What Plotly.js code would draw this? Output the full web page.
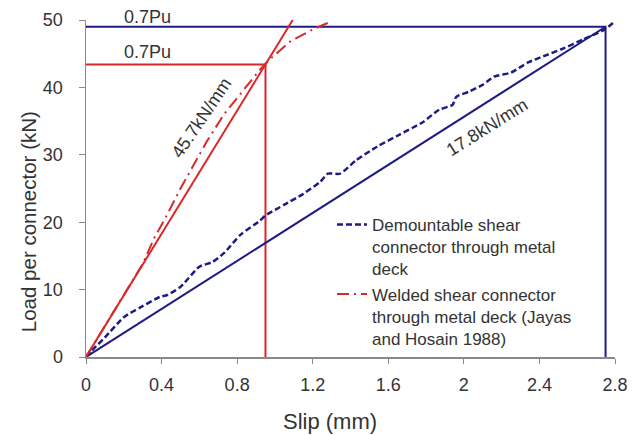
<!DOCTYPE html>
<html>
<head>
<meta charset="utf-8">
<script src="https://cdn.plot.ly/plotly-3.0.1.min.js"></script>
<style>html,body{margin:0;padding:0;background:#fff;}#chart{width:632px;height:436px;}</style>
</head>
<body>
<div id="chart"></div>
<script>
// Demountable shear connector through metal deck (test curve)
var demountSlip = [0, 0.05, 0.10, 0.20, 0.29, 0.39, 0.43, 0.50, 0.60, 0.67, 0.73, 0.82, 0.92, 0.95, 1.05, 1.15, 1.24, 1.28, 1.345, 1.43, 1.54, 1.66, 1.78, 1.87, 1.94, 1.96, 2.03, 2.10, 2.16, 2.25, 2.34, 2.42, 2.52, 2.63, 2.74, 2.80];
var demountLoad = [0, 1.5, 2.9, 5.9, 7.4, 8.9, 9.2, 10.4, 13.4, 14.1, 15.4, 18.2, 20.2, 21.0, 22.6, 24.2, 26.0, 27.2, 27.2, 29.2, 31.2, 33.0, 34.8, 36.7, 37.4, 38.6, 39.4, 40.4, 41.6, 42.2, 43.7, 44.6, 45.7, 47.1, 48.5, 49.8];
// Welded shear connector (Jayas and Hosain 1988)
var weldedSlip = [0, 0.1, 0.2, 0.3, 0.36, 0.42, 0.5, 0.64, 0.73, 0.85, 0.92, 0.97, 1.08, 1.2, 1.3];
var weldedLoad = [0, 4.6, 9.2, 13.8, 17.6, 20.6, 25.0, 32.0, 36.0, 40.1, 42.6, 44.1, 46.8, 48.6, 49.8];
// Secant stiffness lines
var blueStiffSlip = [0, 2.75];
var blueStiffLoad = [0, 49];
var redStiffSlip = [0, 1.094];
var redStiffLoad = [0, 50];
// 0.7Pu guide lines
var blueGuideSlip = [0, 2.75, 2.75];
var blueGuideLoad = [49, 49, 0];
var redGuideSlip = [0, 0.95, 0.95];
var redGuideLoad = [43.4, 43.4, 0];
// Tick values
var xTicks = [0, 0.4, 0.8, 1.2, 1.6, 2, 2.4, 2.8];
var yTicks = [0, 10, 20, 30, 40, 50];

var BLUE = '#1c1c84';
var RED = '#d8282a';
var TXT = '#333333';
var FONT = 'Liberation Sans, Arial, sans-serif';

var traces = [
  {x: blueGuideSlip, y: blueGuideLoad, mode: 'lines', line: {color: BLUE, width: 2}, showlegend: false, hoverinfo: 'skip'},
  {x: redGuideSlip, y: redGuideLoad, mode: 'lines', line: {color: RED, width: 2}, showlegend: false, hoverinfo: 'skip'},
  {x: blueStiffSlip, y: blueStiffLoad, mode: 'lines', line: {color: BLUE, width: 2}, showlegend: false, hoverinfo: 'skip'},
  {x: redStiffSlip, y: redStiffLoad, mode: 'lines', line: {color: RED, width: 2}, showlegend: false, hoverinfo: 'skip'},
  {x: demountSlip, y: demountLoad, mode: 'lines', name: 'Demountable shear<br>connector through metal<br>deck',
   line: {color: BLUE, width: 2.5, dash: '6px,3px', shape: 'spline', smoothing: 0.6}},
  {x: weldedSlip, y: weldedLoad, mode: 'lines', name: 'Welded shear connector<br>through metal deck (Jayas<br>and Hosain 1988)',
   line: {color: RED, width: 2, dash: '12px,5px,2px,5px'}}
];

var layout = {
  width: 632, height: 436,
  margin: {l: 86, r: 17, t: 20, b: 79},
  paper_bgcolor: '#ffffff', plot_bgcolor: '#ffffff',
  font: {family: FONT, size: 18, color: TXT},
  showlegend: true,
  legend: {x: 0.465, y: 0.445, xanchor: 'left', yanchor: 'top', bgcolor: 'rgba(0,0,0,0)', valign: 'top',
           font: {family: FONT, size: 17, color: TXT}, tracegroupgap: 0, itemwidth: 30},
  xaxis: {range: [0, 2.8], tickvals: xTicks, ticktext: xTicks.map(String), showgrid: false, zeroline: false,
          showline: true, linecolor: '#8a8a8a', linewidth: 1.5, ticks: 'outside', ticklen: 5, tickcolor: '#8a8a8a',
          tickfont: {family: FONT, size: 18, color: TXT}, ticklabelstandoff: 6},
  yaxis: {range: [0, 50], tickvals: yTicks, showgrid: false, zeroline: false,
          showline: true, linecolor: '#8a8a8a', linewidth: 1.5, ticks: 'outside', ticklen: 6, tickcolor: '#8a8a8a',
          tickfont: {family: FONT, size: 18, color: TXT}, ticklabelstandoff: 12},
  annotations: [
    {xref: 'paper', yref: 'paper', x: 0.461, y: -0.19, text: 'Slip (mm)', showarrow: false,
     xanchor: 'center', yanchor: 'middle', font: {family: FONT, size: 22, color: TXT}},
    {xref: 'paper', yref: 'paper', x: -0.1096, y: 0.40, text: 'Load per connector (kN)', showarrow: false,
     textangle: -90, xanchor: 'center', yanchor: 'middle', font: {family: FONT, size: 20.5, color: TXT}},
    {x: 0.323, yref: 'paper', y: 1.008, text: '0.7Pu', showarrow: false, xanchor: 'center', yanchor: 'middle',
     font: {family: FONT, size: 18, color: TXT}},
    {x: 0.323, y: 45.3, text: '0.7Pu', showarrow: false, xanchor: 'center', yanchor: 'middle',
     font: {family: FONT, size: 18, color: TXT}},
    {x: 0.612, y: 35.4, text: '45.7kN/mm', showarrow: false, textangle: -56, xanchor: 'center', yanchor: 'middle',
     font: {family: FONT, size: 18, color: TXT}},
    {x: 2.125, y: 34.1, text: '17.8kN/mm', showarrow: false, textangle: -32, xanchor: 'center', yanchor: 'middle',
     font: {family: FONT, size: 18, color: TXT}}
  ]
};

Plotly.newPlot('chart', traces, layout, {displayModeBar: false, staticPlot: true});
</script>
</body>
</html>
